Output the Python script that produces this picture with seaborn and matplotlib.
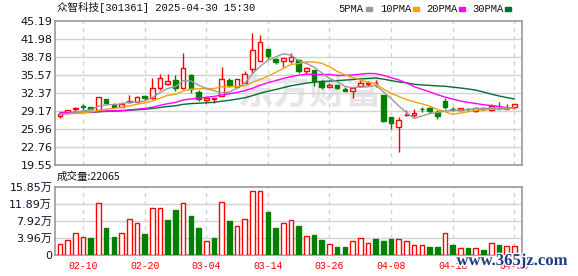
import numpy as np
import pandas as pd
import matplotlib
matplotlib.use("Agg")
import matplotlib.pyplot as plt
import matplotlib.patheffects as pe
from matplotlib.patches import Rectangle
import seaborn as sns

# ---------------- data ----------------
dates = ['02-05','02-06','02-07','02-10','02-11','02-12','02-13','02-14','02-17','02-18',
         '02-19','02-20','02-21','02-24','02-25','02-26','02-27','02-28','03-03','03-04',
         '03-05','03-06','03-07','03-10','03-11','03-12','03-13','03-14','03-17','03-18',
         '03-19','03-20','03-21','03-24','03-25','03-26','03-27','03-28','03-31','04-01',
         '04-02','04-03','04-07','04-08','04-09','04-10','04-11','04-14','04-15','04-16',
         '04-17','04-18','04-21','04-22','04-23','04-24','04-25','04-28','04-29','04-30']
label_dates = ['02-10', '02-20', '03-04', '03-14', '03-26', '04-08', '04-18', '04-30']

opens = [28.35, 28.8, 29.5, 30.05, 29.85, 29.35, 31.25, 30.3, 29.95, 30.7,
         30.8, 31.8, 31.4, 33.3, 33.9, 34.7, 33.2, 35.6, 32.6, 31.05,
         31.25, 31.85, 34.7, 33.5, 34.2, 36.6, 38.15, 40.2, 38.35, 38.0,
         38.0, 38.25, 36.2, 36.45, 34.5, 33.4, 33.8, 33.0, 32.75, 33.6,
         33.9, 34.1, 32.0, 28.05, 26.25, 28.4, 28.5, 29.5, 29.75, 29.05,
         31.0, 29.6, 29.35, 29.5, 29.2, 29.65, 29.3, 29.55, 29.55, 29.95]
closes = [28.6, 29.3, 29.75, 29.85, 29.5, 31.6, 30.65, 29.95, 30.5, 30.95,
          31.7, 31.5, 33.2, 35.0, 34.5, 33.3, 36.75, 33.0, 31.25, 31.5,
          31.45, 34.8, 33.7, 34.8, 35.75, 39.95, 41.4, 39.0, 37.9, 38.55,
          38.7, 36.35, 36.75, 34.5, 33.5, 33.8, 33.2, 32.75, 33.3, 34.1,
          34.2, 34.15, 27.32, 27.1, 27.55, 28.45, 28.85, 29.45, 29.2, 28.35,
          29.95, 29.5, 29.65, 29.45, 29.65, 29.6, 30.05, 29.5, 29.55, 30.4]
highs = [28.65, 29.35, 29.8, 30.35, 29.9, 31.7, 31.3, 30.6, 30.75, 32.0,
         31.9, 31.85, 35.0, 35.75, 35.75, 35.6, 39.55, 35.7, 32.9, 31.55,
         31.55, 37.0, 35.05, 34.85, 36.2, 43.0, 42.7, 40.25, 38.65, 38.6,
         39.45, 38.4, 37.05, 36.5, 34.6, 34.2, 33.85, 33.5, 33.35, 34.7,
         34.5, 34.7, 32.05, 28.1, 28.15, 29.35, 29.45, 29.95, 29.8, 29.35,
         31.4, 29.95, 29.7, 29.65, 29.8, 29.8, 30.5, 30.85, 30.4, 30.45]
lows = [27.95, 28.75, 29.2, 29.35, 29.4, 29.3, 30.4, 29.85, 29.9, 30.65,
        30.75, 31.1, 31.3, 32.9, 33.85, 32.8, 33.1, 32.4, 31.0, 30.65,
        30.65, 31.8, 33.5, 33.45, 34.1, 35.9, 38.0, 38.35, 37.5, 37.05,
        37.65, 35.85, 35.75, 33.6, 33.0, 33.35, 33.15, 32.7, 31.4, 33.55,
        33.6, 33.5, 27.2, 25.9, 21.8, 28.2, 28.15, 29.05, 28.85, 27.8,
        29.45, 29.15, 29.3, 29.2, 29.05, 29.35, 29.2, 29.45, 29.5, 29.45]
# volume in 万 (10k shares)
volumes = [2.56, 3.5, 5.05, 4.12, 3.96, 12.04, 6.29, 4.2, 5.05, 8.31,
           7.38, 4.9, 10.88, 10.88, 8.16, 10.49, 12.04, 9.09, 6.29, 3.26,
           3.96, 12.27, 7.92, 6.76, 8.31, 14.84, 14.84, 10.02, 6.29, 7.46,
           8.08, 6.76, 4.35, 4.66, 3.5, 2.49, 1.86, 1.86, 3.26, 3.88,
           2.8, 3.73, 3.26, 3.73, 3.65, 3.26, 2.25, 2.25, 1.79, 1.79,
           5.05, 2.25, 1.55, 1.55, 1.55, 1.17, 2.72, 2.25, 2.02, 2.21]
# estimated closes of the 29 sessions before the window (for the moving averages)
prior_closes = [28.2, 28.4, 28.6, 28.5, 28.3, 28.4, 28.6, 28.5, 28.5, 28.5,
                28.9, 29.2, 29.5, 29.4, 29.3, 29.1, 29.2, 29.3, 29.0, 29.1,
                28.8, 28.7, 28.5, 28.6, 28.7, 28.5, 28.6, 28.6, 28.4]

price_ticks = ['19.55', '22.76', '25.96', '29.17', '32.37', '35.57', '38.78', '41.98', '45.19']
vol_ticks = [0, 3.9625, 7.925, 11.8875, 15.85]
vol_tick_labels = ['0', '3.96万', '7.92万', '11.89万', '15.85万']
ma_periods = [5, 10, 20, 30]
ma_names = ['5PMA', '10PMA', '20PMA', '30PMA']
ma_colors = ['#999999', '#f0a30a', '#ff00ff', '#006e32']
title = '众智科技[301361] 2025-04-30 15:30'
vol_title = '成交量:22065'

# ---------------- style ----------------
sns.set_theme(style='white')
plt.rcParams['font.family'] = ['DejaVu Sans', 'Noto Sans CJK SC']
RED = '#ff0000'
GREEN = '#008000'
FRAME = '#999999'
GRID = '#d2d2d2'
LBL = '#10102a'

W, H = 578, 276
fig = plt.figure(figsize=(W / 100, H / 100), dpi=100)
fig.patch.set_facecolor('white')
ax1 = fig.add_axes([55 / W, 1 - 165 / H, 467 / W, 144 / H])
ax2 = fig.add_axes([55 / W, 1 - 255 / H, 467 / W, 68 / H])

df = pd.DataFrame({'date': dates, 'open': opens, 'close': closes,
                   'high': highs, 'low': lows, 'vol': volumes})
df['x'] = np.arange(len(df))
o = df['open'].to_numpy(); c = df['close'].to_numpy()
up = c >= o
cand_col = np.where(up, RED, GREEN)
face_col = np.where(up, 'white', GREEN)

allc = pd.Series(prior_closes + closes)
for p, name, col in zip(ma_periods, ma_names, ma_colors):
    df[name] = allc.rolling(p).mean().to_numpy()[len(prior_closes):]

# watermark
ax1.text(32.5, 32.4, '东方财富', fontsize=26, fontweight='bold', color='#e6e6e6',
         ha='center', va='center', zorder=0.5, family=['Noto Sans CJK SC'])

# candles
ax1.vlines(df['x'], df['low'], df['high'], colors=cand_col, linewidth=1, zorder=2)
ax1.bar(df['x'], np.abs(c - o), bottom=np.minimum(o, c), width=0.6,
        color=face_col, edgecolor=cand_col, linewidth=1, zorder=3)

# moving averages (drawn in reverse so short MA on top)
for name, col in list(zip(ma_names, ma_colors))[::-1]:
    sns.lineplot(data=df, x='x', y=name, ax=ax1, color=col, linewidth=1,
                 legend=False, zorder=4)

# volume
prev_close = np.r_[prior_closes[-1], c[:-1]]
vup = c >= prev_close
ax2.bar(df['x'], df['vol'], width=0.6, color=np.where(vup, 'white', GREEN),
        edgecolor=np.where(vup, RED, GREEN), linewidth=1, zorder=3)

xt = [dates.index(d) for d in label_dates]
for ax in (ax1, ax2):
    ax.set_xlim(-0.64, 60.0)
    ax.set_xlabel(''); ax.set_ylabel('')
    ax.set_xticks(xt)
    for s in ax.spines.values():
        s.set_color(FRAME); s.set_linewidth(1.2); s.set_visible(True)
    ax.tick_params(length=0)
    ax.grid(False)
    for xv in xt:
        ax.axvline(xv, color=GRID, linestyle=(0, (3, 3)), linewidth=1, zorder=1)

ax1.set_ylim(19.55, 45.19)
ax1.set_yticks([float(t) for t in price_ticks])
ax1.set_yticklabels(price_ticks)
ax1.set_xticklabels([])
for t in price_ticks[1:-1]:
    ax1.axhline(float(t), color=GRID, linewidth=1, zorder=1)
ax1.tick_params(axis='y', labelsize=8, labelcolor=LBL, pad=2)

ax2.set_ylim(0, 15.85)
ax2.set_yticks(vol_ticks)
ax2.set_yticklabels(vol_tick_labels)
for t in vol_ticks[1:-1]:
    ax2.axhline(t, color=GRID, linewidth=1, zorder=1)
ax2.tick_params(axis='y', labelsize=8, labelcolor=LBL, pad=2)
ax2.set_xticklabels(label_dates, color=RED, fontsize=7, family=['Liberation Mono'])
ax2.tick_params(axis='x', pad=4.5)

# titles / legend
fig.text(57 / W, 1 - 7.5 / H, title, fontsize=7.6, color='#111111', va='center', ha='left',
         family=['Liberation Mono', 'Noto Sans CJK SC'])
fig.text(57 / W, 1 - 177 / H, vol_title, fontsize=7.6, color='#111111', va='center', ha='left',
         family=['Noto Sans CJK SC', 'Liberation Mono'])
leg_text_x = [338, 380, 426, 472]
leg_box_x = [366, 413, 459, 505]
for name, col, tx, bx in zip(ma_names, ma_colors, leg_text_x, leg_box_x):
    fig.text(tx / W, 1 - 9 / H, name, fontsize=7.6, color='#111111', va='center', ha='left',
             family=['Liberation Mono'])
    fig.patches.append(Rectangle((bx / W, 1 - 11 / H), 6 / W, 4 / H,
                                 transform=fig.transFigure, color=col))

fig.text(512 / W, 1 - 261 / H, 'www.365jz.com', fontsize=12, color='#1c3a86',
         fontweight='bold', ha='center', va='center', family=['Liberation Serif'],
         path_effects=[pe.withStroke(linewidth=2, foreground='white')])

fig.savefig('out.png', dpi=100)
